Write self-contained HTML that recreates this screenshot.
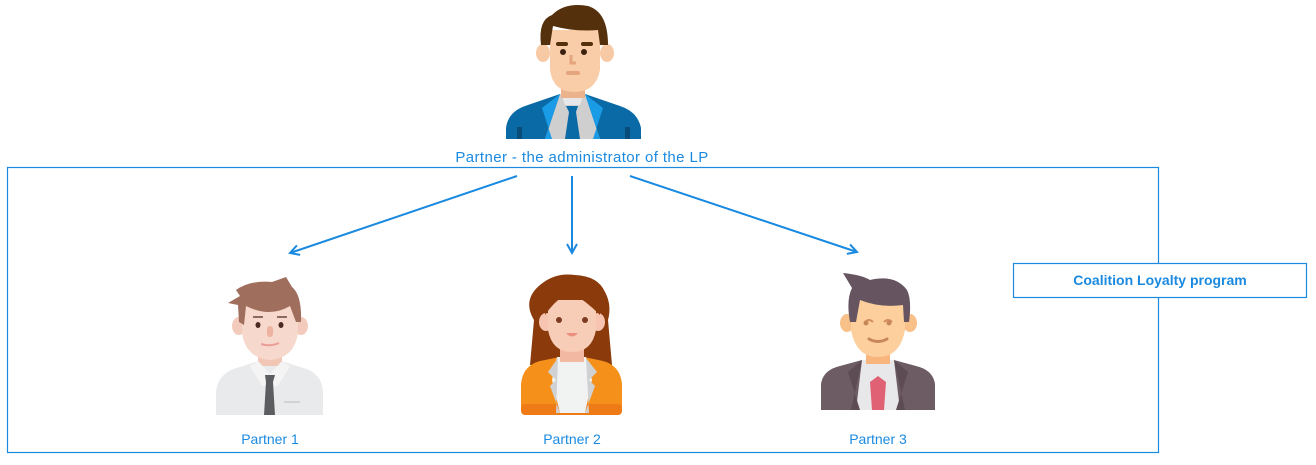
<!DOCTYPE html>
<html><head><meta charset="utf-8"><style>
html,body{margin:0;padding:0;background:#fff;}
svg{display:block;}
text{font-family:"Liberation Sans",sans-serif;}
</style></head><body>
<svg width="1316" height="465" viewBox="0 0 1316 465" xmlns="http://www.w3.org/2000/svg">
<defs>
<marker id="ah" markerWidth="12" markerHeight="12" refX="10" refY="6" orient="auto" markerUnits="userSpaceOnUse">
<path d="M1,1 L10,6 L1,11" fill="none" stroke="#1a8ae0" stroke-width="2"/>
</marker>
</defs>
<!-- main box -->
<rect x="7.5" y="167.5" width="1151" height="285" fill="none" stroke="#1a8ae0" stroke-width="1.2"/>
<rect x="1013.5" y="263.5" width="293" height="34" fill="#fff" stroke="#1a8ae0" stroke-width="1.2"/>
<text x="1160" y="285" font-size="14" font-weight="bold" fill="#1a8ae0" text-anchor="middle">Coalition Loyalty program</text>

<!-- arrows -->
<line x1="517" y1="176" x2="290" y2="253" stroke="#1a8ae0" stroke-width="2" marker-end="url(#ah)"/>
<line x1="572" y1="176" x2="572" y2="253" stroke="#1a8ae0" stroke-width="2" marker-end="url(#ah)"/>
<line x1="630" y1="176" x2="857" y2="252" stroke="#1a8ae0" stroke-width="2" marker-end="url(#ah)"/>

<!-- admin -->
<g>
<path d="M506,139 L506,128 Q508,112 525,106 L560,94 L585,94 L620,106 Q638,112 641,128 L641,139 Z" fill="#0a6aa6"/>
<path d="M560,94 L585,94 L600,139 L545,139 Z" fill="#cfcfcf"/>
<path d="M560,94 L542,108 L552,139 L545,139 Z" fill="#1a9be6"/>
<path d="M585,94 L603,108 L593,139 L600,139 Z" fill="#1a9be6"/>
<path d="M562,96 L583,96 L580,105 L565,105 Z" fill="#e8e8ea"/>
<path d="M566,106 L578,106 L576,112 L580,139 L565,139 L569,112 Z" fill="#0a6aa6"/>
<rect x="517" y="127" width="5" height="12" fill="#084d7a"/>
<rect x="625" y="127" width="5" height="12" fill="#084d7a"/>
<rect x="561" y="78" width="24" height="20" fill="#eab38c"/>
<ellipse cx="543" cy="53" rx="7" ry="9" fill="#f8c9a5"/>
<ellipse cx="607" cy="53" rx="7" ry="9" fill="#f8c9a5"/>
<path d="M550,30 L600,30 L600,70 Q596,92 574,92 Q553,92 550,70 Z" fill="#f9cda8"/>
<path d="M541,45 Q538,20 552,15 Q565,2 588,6 Q608,12 608,45 L600,45 L598,30 Q575,32 553,26 L550,45 Z" fill="#55300c"/>
<rect x="556" y="42" width="12" height="4" rx="2" fill="#55300c"/>
<rect x="581" y="42" width="12" height="4" rx="2" fill="#55300c"/>
<circle cx="563" cy="52" r="3" fill="#3a2210"/><circle cx="584" cy="52" r="3" fill="#3a2210"/>
<path d="M571,55 L571,63 L576,63" stroke="#e4a47e" stroke-width="3" fill="none"/>
<rect x="566" y="71" width="14" height="4" rx="2" fill="#e4a47e"/>
</g>
<text x="582" y="162" font-size="15" letter-spacing="0.4" fill="#1a8ae0" text-anchor="middle">Partner - the administrator of the LP</text>

<!-- partner 1 -->
<g>
<path d="M216,415 L216,392 Q218,372 240,367 L258,361 L282,361 L300,367 Q322,372 323,392 L323,415 Z" fill="#e9eaeb"/>
<rect x="258" y="346" width="24" height="20" fill="#f2c6b5"/>
<path d="M258,361 L270,374 L282,361 L290,366 L278,386 L262,386 L250,366 Z" fill="#f4f4f4"/>
<path d="M265,375 L275,375 L273,382 L275,415 L264,415 L266,382 Z" fill="#5c5d60"/>
<line x1="284" y1="402" x2="300" y2="402" stroke="#c9cacc" stroke-width="1.5"/>
<ellipse cx="239" cy="326" rx="7" ry="9" fill="#f3cbbd"/>
<ellipse cx="301" cy="326" rx="7" ry="9" fill="#f3cbbd"/>
<path d="M241,300 L298,300 L298,332 Q295,358 270,360 Q245,358 242,332 Z" fill="#f7d8cc"/>
<path d="M228,303 L240,296 L236,290 Q250,280 272,282 L286,277 L292,287 Q302,295 301,322 L296,322 L290,306 Q270,318 246,306 L244,325 L239,322 L238,305 Z" fill="#a06e5c"/>
<rect x="253" y="316" width="10" height="2" fill="#8d6a5e"/><rect x="277" y="316" width="10" height="2" fill="#8d6a5e"/>
<ellipse cx="258" cy="325" rx="2.5" ry="3" fill="#4a2a22"/><ellipse cx="281" cy="325" rx="2.5" ry="3" fill="#4a2a22"/>
<rect x="267" y="326" width="6" height="11" rx="3" fill="#eeb2a0"/>
<path d="M261,344 Q270,347 279,343" stroke="#ea9e98" stroke-width="2" fill="none"/>
</g>
<text x="270" y="444" font-size="14" fill="#1a8ae0" text-anchor="middle">Partner 1</text>

<!-- partner 2 -->
<g>
<path d="M534,320 Q522,300 540,285 Q555,272 575,275 Q598,276 605,292 Q612,305 608,320 L612,365 L530,365 Z" fill="#8b3a0c"/>
<path d="M521,408 L521,385 Q522,366 540,361 L560,357 L584,357 L603,361 Q621,366 622,385 L622,408 Q622,415 615,415 L528,415 Q521,415 521,408 Z" fill="#f5911b"/>
<rect x="521" y="404" width="101" height="11" rx="4" fill="#ee7b16"/>
<path d="M557,357 L586,357 L592,380 L585,413 L560,413 L552,380 Z" fill="#f1f2f2"/>
<path d="M558,358 L548,372 L556,380 L550,386 L560,413 L556,413 Z" fill="#cfd1d2"/>
<path d="M586,358 L597,372 L589,380 L595,386 L585,413 L589,413 Z" fill="#cfd1d2"/>
<rect x="560" y="340" width="24" height="22" fill="#f3b8a2"/>
<ellipse cx="546" cy="322" rx="7" ry="9" fill="#f6c4b0"/>
<ellipse cx="598" cy="322" rx="7" ry="9" fill="#f6c4b0"/>
<path d="M548,300 L596,300 L596,330 Q592,352 572,352 Q552,352 548,330 Z" fill="#f8cdb8"/>
<path d="M545,315 Q545,285 572,283 Q600,283 600,315 Q585,300 570,292 Q555,300 545,315 Z" fill="#8b3a0c"/>
<circle cx="559" cy="320" r="3" fill="#7b3c22"/><circle cx="585" cy="320" r="3" fill="#7b3c22"/>
<path d="M566,333 Q572,340 578,333 Z" fill="#ea8e7e"/>
</g>
<text x="572" y="444" font-size="14" fill="#1a8ae0" text-anchor="middle">Partner 2</text>

<!-- partner 3 -->
<g>
<path d="M821,410 L821,384 Q823,370 840,366 L862,360 L894,360 L916,366 Q933,370 935,384 L935,410 Z" fill="#6e5c64"/>
<path d="M862,360 L894,360 L900,410 L856,410 Z" fill="#e8e7ea"/>
<path d="M862,360 L848,372 L860,410 L851,410 Z" fill="#5e4c55"/>
<path d="M894,360 L908,372 L896,410 L905,410 Z" fill="#5e4c55"/>
<path d="M870,382 L878,376 L886,382 L884,410 L872,410 Z" fill="#e06173"/>
<rect x="866" y="342" width="24" height="22" fill="#f9b57e"/>
<ellipse cx="847" cy="323" rx="7" ry="9" fill="#f8c189"/>
<ellipse cx="910" cy="323" rx="7" ry="9" fill="#f8c189"/>
<path d="M851,300 L905,300 L905,330 Q900,357 878,357 Q856,357 851,330 Z" fill="#fccf9c"/>
<path d="M843,273 Q862,275 870,280 Q895,274 907,290 Q912,300 909,322 L904,322 L903,305 Q880,308 860,300 L856,322 L850,322 Q846,300 852,288 Z" fill="#665560"/>
<path d="M865,322 Q869,318 873,322" stroke="#d28b5b" stroke-width="2" fill="none"/>
<path d="M884,322 Q888,318 892,322" stroke="#d28b5b" stroke-width="2" fill="none"/>
<circle cx="866" cy="323" r="2.5" fill="#c78758"/><circle cx="889" cy="323" r="2.5" fill="#c78758"/>
<path d="M869,339 Q878,344 887,339" stroke="#c78758" stroke-width="3" fill="none" stroke-linecap="round"/>
</g>
<text x="878" y="444" font-size="14" fill="#1a8ae0" text-anchor="middle">Partner 3</text>
</svg>
</body></html>
